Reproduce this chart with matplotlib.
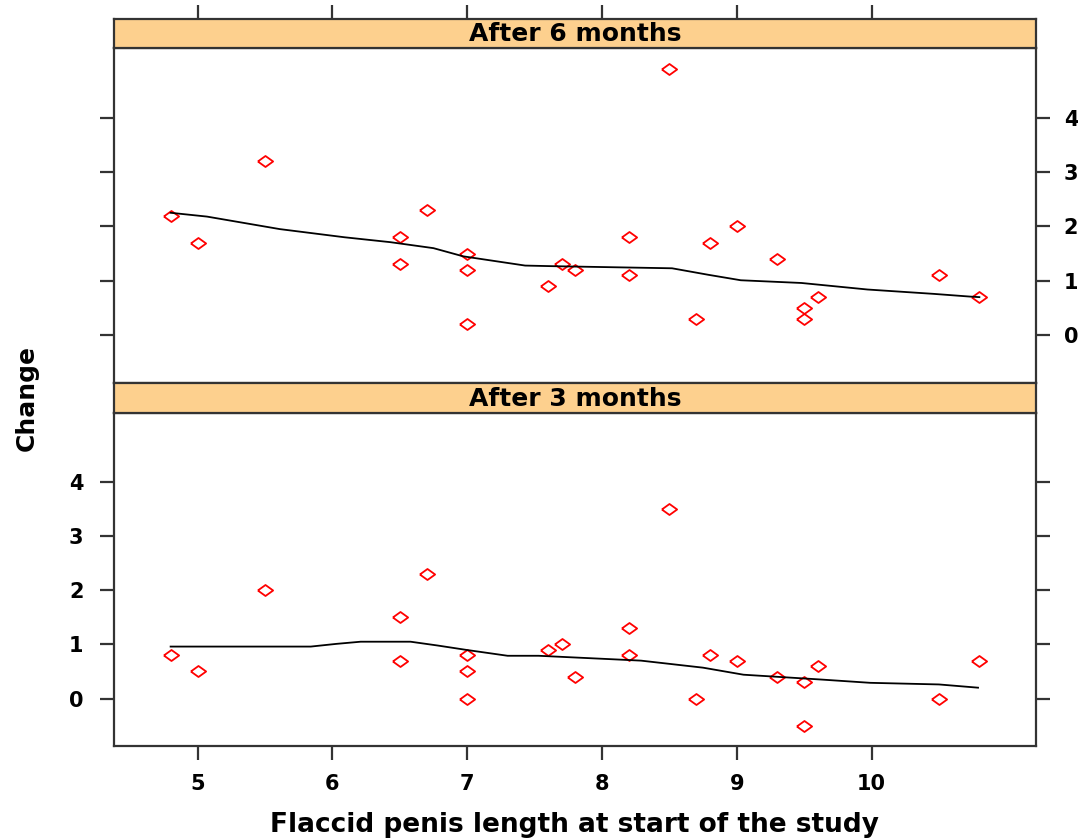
import matplotlib
matplotlib.use('Agg')
import matplotlib.pyplot as plt

# flaccid length at start (same subjects in both panels)
length = [4.8, 5.0, 5.5, 6.5, 6.5, 6.7, 7.0, 7.0, 7.0, 7.6, 7.7, 7.8,
          8.2, 8.2, 8.5, 8.7, 8.8, 9.0, 9.3, 9.5, 9.5, 9.6, 10.5, 10.8]
change_6m = [2.2, 1.7, 3.2, 1.8, 1.3, 2.3, 1.5, 1.2, 0.2, 0.9, 1.3, 1.2,
             1.8, 1.1, 4.9, 0.3, 1.7, 2.0, 1.4, 0.5, 0.3, 0.7, 1.1, 0.7]
change_3m = [0.8, 0.5, 2.0, 1.5, 0.7, 2.3, 0.8, 0.5, 0.0, 0.9, 1.0, 0.4,
             1.3, 0.8, 3.5, 0.0, 0.8, 0.7, 0.4, 0.3, -0.5, 0.6, 0.0, 0.7]

# smoother lines
smooth_6m_x = [4.8, 5.07, 5.61, 6.09, 6.43, 6.75, 6.97, 7.43, 7.61, 8.52,
               8.79, 9.03, 9.48, 9.97, 10.46, 10.73, 10.8]
smooth_6m_y = [2.25, 2.18, 1.95, 1.80, 1.71, 1.60, 1.45, 1.28, 1.27, 1.23,
               1.11, 1.01, 0.96, 0.84, 0.76, 0.71, 0.70]
smooth_3m_x = [4.8, 5.84, 6.03, 6.21, 6.58, 6.78, 6.99, 7.30, 7.53, 8.04,
               8.29, 8.75, 9.05, 9.63, 9.99, 10.50, 10.79]
smooth_3m_y = [0.96, 0.96, 1.01, 1.05, 1.05, 0.98, 0.90, 0.79, 0.79, 0.73,
               0.70, 0.57, 0.44, 0.35, 0.29, 0.26, 0.20]

xticks = [5, 6, 7, 8, 9, 10]
yticks = [0, 1, 2, 3, 4]

plt.rcParams['font.family'] = ['DejaVu Sans']
plt.rcParams['font.weight'] = 'bold'

W, H = 1078, 839
fig = plt.figure(figsize=(W / 100, H / 100), dpi=100)


def box(x0, y0, x1, y1):
    return [x0 / W, 1 - y1 / H, (x1 - x0) / W, (y1 - y0) / H]


# lattice style limits (7% padding)
def padded(vals):
    lo, hi = min(vals), max(vals)
    p = 0.07 * (hi - lo)
    return lo - p, hi + p


xlim = padded(length)
ylim = padded(change_6m + change_3m)

diamond = [(-1, 0), (0, 0.72), (1, 0), (0, -0.72), (-1, 0)]
frame_col = '#333333'
strip_col = '#fdd08e'
tick_len = 10


def style_frame(ax):
    for s in ax.spines.values():
        s.set_color(frame_col)
        s.set_linewidth(1.6)


def panel(y0, y1, ys, sx, sy):
    ax = fig.add_axes(box(114, y0, 1036, y1))
    ax.plot(length, ys, linestyle='none', marker=diamond, markersize=11,
            markerfacecolor='none', markeredgecolor='#ff0000', markeredgewidth=1.3)
    ax.plot(sx, sy, color='black', lw=1.3)
    ax.set_xlim(xlim)
    ax.set_ylim(ylim)
    ax.set_xticks(xticks)
    ax.set_yticks(yticks)
    style_frame(ax)
    return ax


def strip(y0, y1, title, top_ticks):
    s = fig.add_axes(box(114, y0, 1036, y1))
    s.set_facecolor(strip_col)
    s.set_xlim(xlim)
    s.set_yticks([])
    s.set_xticks(xticks if top_ticks else [])
    s.tick_params(axis='x', bottom=False, labelbottom=False, top=top_ticks,
                  labeltop=False, direction='out', length=tick_len, width=1.6,
                  color=frame_col)
    s.text(0.5, 0.47, title, transform=s.transAxes, ha='center', va='center',
           fontsize=18, fontweight='bold')
    style_frame(s)
    return s


# After 6 months (top)
ax1 = panel(48, 383, change_6m, smooth_6m_x, smooth_6m_y)
ax1.tick_params(axis='y', left=True, right=True, labelleft=False, labelright=True,
                direction='out', length=tick_len, width=1.6, color=frame_col,
                labelsize=15, pad=10)
ax1.tick_params(axis='x', bottom=False, labelbottom=False)
strip(19, 48, 'After 6 months', True)

# After 3 months (bottom)
ax2 = panel(413, 746, change_3m, smooth_3m_x, smooth_3m_y)
ax2.tick_params(axis='y', left=True, right=True, labelleft=True, labelright=False,
                direction='out', length=tick_len, width=1.6, color=frame_col,
                labelsize=15, pad=12)
ax2.tick_params(axis='x', bottom=True, top=False, labelbottom=True,
                direction='out', length=tick_len, width=1.6, color=frame_col,
                labelsize=15, pad=10)
strip(383, 413, 'After 3 months', False)

fig.text(575 / W, 1 - 825 / H, 'Flaccid penis length at start of the study',
         ha='center', va='center', fontsize=19, fontweight='bold')
fig.text(27 / W, 1 - 398 / H, 'Change', rotation=90, ha='center', va='center',
         fontsize=18, fontweight='bold')

fig.savefig('out.png', dpi=100)
